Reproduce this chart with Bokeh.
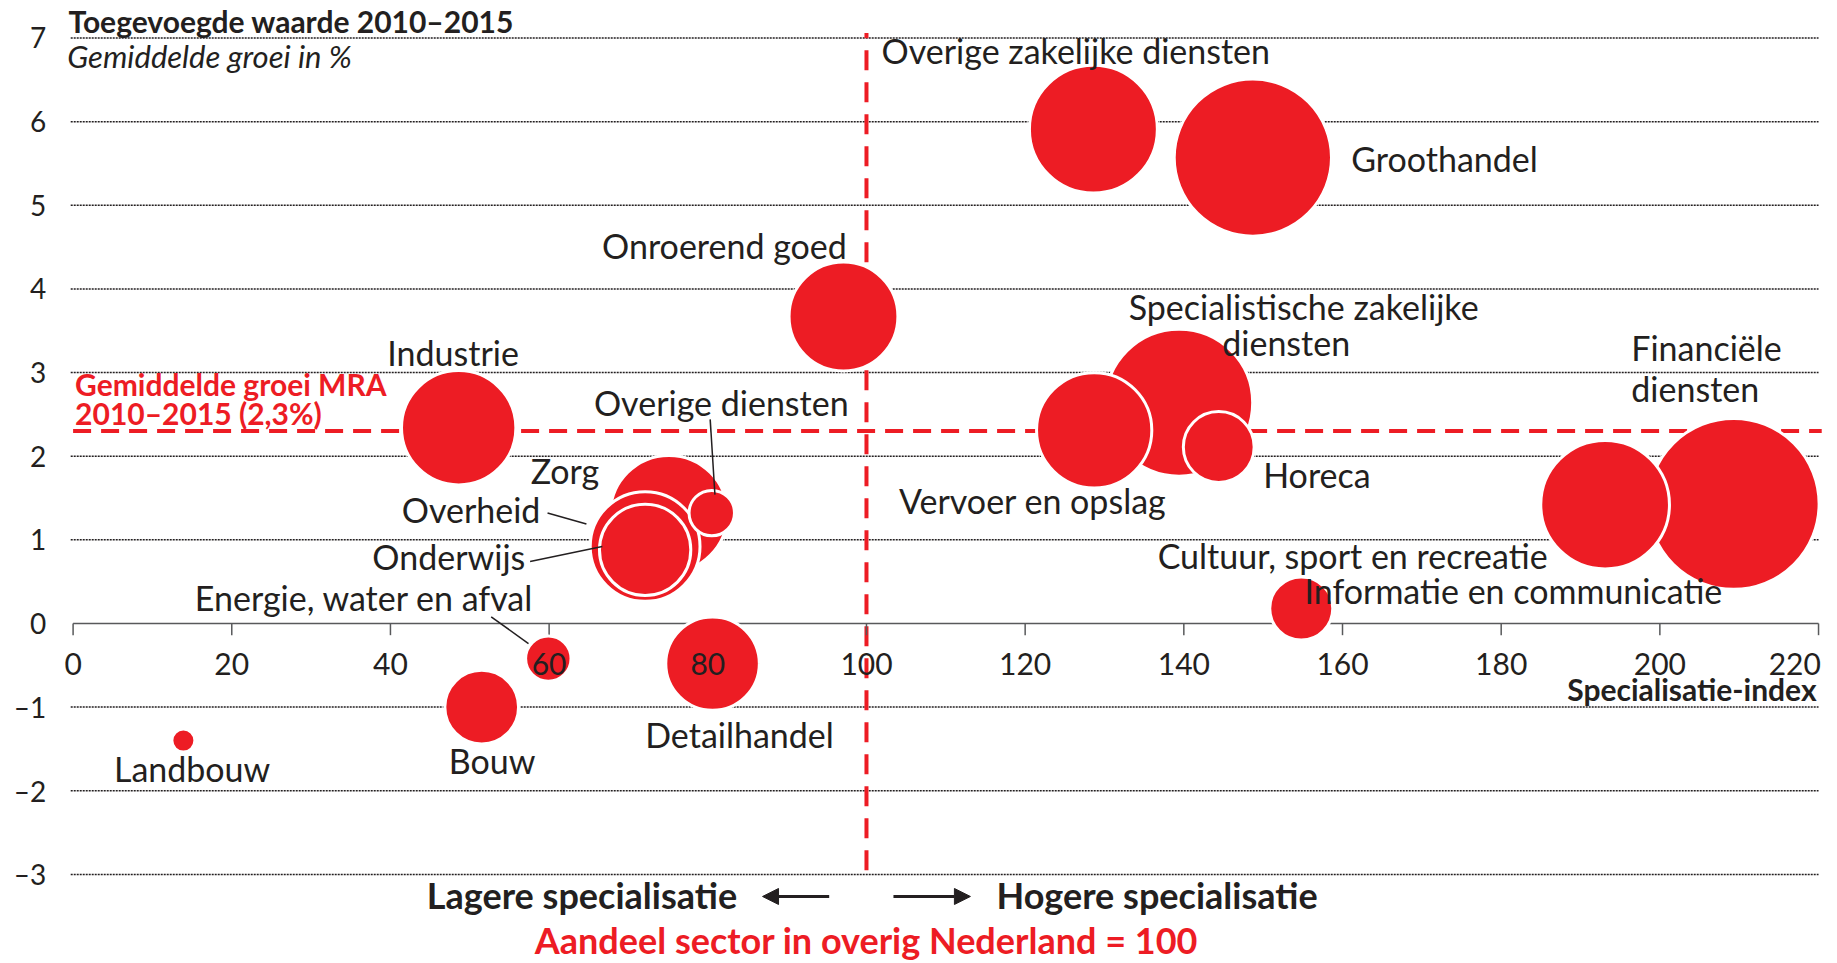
import math
from bokeh.plotting import figure
from bokeh.models import Range1d, Label, Arrow, NormalHead, ColumnDataSource
from bokeh.core.properties import value
from bokeh.embed import file_html
from bokeh.resources import INLINE

# ---------------- data ----------------
sectors = [
    "Financiële diensten", "Groothandel", "Specialistische zakelijke diensten",
    "Informatie en communicatie", "Overige zakelijke diensten", "Zorg",
    "Vervoer en opslag", "Industrie", "Overheid", "Onroerend goed",
    "Detailhandel", "Onderwijs", "Bouw", "Horeca",
    "Cultuur, sport en recreatie", "Overige diensten",
    "Energie, water en afval", "Landbouw",
]
spec_index = [209.3, 148.7, 139.4, 193.1, 128.6, 75.1, 128.7, 48.6, 72.1, 97.1,
              80.6, 72.1, 51.5, 144.4, 154.8, 80.5, 59.9, 13.9]
growth = [1.43, 5.57, 2.64, 1.42, 5.91, 1.31, 2.31, 2.34, 0.92, 3.67,
          -0.48, 0.88, -1.00, 2.11, 0.18, 1.32, -0.42, -1.40]
share = [14.1, 11.9, 10.4, 7.9, 7.8, 6.5, 6.3, 6.2, 5.7, 5.6,
         4.1, 3.9, 2.5, 2.3, 1.8, 0.9, 0.9, 0.2]

x_ticks = [0, 20, 40, 60, 80, 100, 120, 140, 160, 180, 200, 220]
y_ticks = [-3, -2, -1, 0, 1, 2, 3, 4, 5, 6, 7]
mra_avg = 2.3
reference_index = 100

# ---------------- style ----------------
RED = "#ED1C24"
INK = "#231F20"
AXIS = "#58595B"
FONT = "Lato"

p = figure(width=1837, height=963,
           x_range=Range1d(-9.15, 222.39), y_range=Range1d(-4.0653, 7.4483),
           output_backend="svg", toolbar_location=None,
           min_border_left=0, min_border_right=0,
           min_border_top=0, min_border_bottom=0,
           x_axis_location=None, y_axis_location=None)
p.outline_line_color = None
p.xgrid.visible = False
p.ygrid.visible = False

# horizontal dotted grid lines
grid_y = [t for t in y_ticks if t != 0]
p.segment(x0=[-0.3] * len(grid_y), y0=grid_y, x1=[x_ticks[-1]] * len(grid_y), y1=grid_y,
          line_color=INK, line_width=1.5, line_dash="2 1")

# y tick labels
p.text(x=[-3.4] * len(y_ticks), y=y_ticks,
       text=[("–" + str(-t)) if t < 0 else str(t) for t in y_ticks],
       text_align="right", text_baseline="middle",
       text_font=value(FONT), text_font_size="28px", text_color=INK)

# reference lines (behind bubbles)
p.segment(x0=[0], y0=[mra_avg], x1=[220.4], y1=[mra_avg],
          line_color=RED, line_width=4, line_dash="18 10")
p.segment(x0=[reference_index], y0=[-2.95], x1=[reference_index], y1=[7.06],
          line_color=RED, line_width=4, line_dash="20 12")

# x axis at y = 0
p.segment(x0=[x_ticks[0]], y0=[0], x1=[x_ticks[-1]], y1=[0], line_color=AXIS, line_width=1.5)
p.segment(x0=x_ticks, y0=[0] * len(x_ticks), x1=x_ticks, y1=[-0.14] * len(x_ticks),
          line_color=AXIS, line_width=1.5)

# bubbles
src = ColumnDataSource(dict(
    x=spec_index, y=growth, name=sectors,
    size=[2 * math.sqrt(s * 500) + 3 for s in share],
))
p.scatter("x", "y", size="size", source=src, fill_color=RED,
          line_color="white", line_width=3)

# x tick labels (above bubbles); the last one ends at its tick
TICK_Y = -0.486
p.text(x=x_ticks[:-1], y=[TICK_Y] * (len(x_ticks) - 1), text=[str(t) for t in x_ticks[:-1]],
       text_align="center", text_baseline="alphabetic",
       text_font=value(FONT), text_font_size="30px", text_color=INK)
p.text(x=[x_ticks[-1] + 0.3], y=[TICK_Y], text=[str(x_ticks[-1])],
       text_align="right", text_baseline="alphabetic",
       text_font=value(FONT), text_font_size="30px", text_color=INK)

# leader lines
p.segment(x0=[80.3, 59.8, 57.6, 52.7], y0=[2.44, 1.32, 0.74, 0.08],
          x1=[80.9, 64.7, 66.7, 57.4], y1=[1.54, 1.19, 0.92, -0.24],
          line_color=INK, line_width=1.5)

# bubble labels
LBL_DY = 0.035
labels_left = [
    ("Overige zakelijke diensten", 101.9, 6.82),
    ("Groothandel", 161.1, 5.52),
    ("Financiële", 196.4, 3.26),
    ("diensten", 196.4, 2.77),
    ("Vervoer en opslag", 104.1, 1.43),
    ("Horeca", 150.0, 1.75),
    ("Cultuur, sport en recreatie", 136.7, 0.78),
    ("Informatie en communicatie", 155.2, 0.36),
]
labels_center = [
    ("Onroerend goed", 82.1, 4.48),
    ("Specialistische zakelijke", 155.1, 3.75),
    ("diensten", 152.9, 3.33),
    ("Industrie", 47.9, 3.21),
    ("Overige diensten", 81.7, 2.61),
    ("Zorg", 62.0, 1.79),
    ("Energie, water en afval", 36.7, 0.27),
    ("Detailhandel", 84.0, -1.36),
    ("Bouw", 52.8, -1.67),
    ("Landbouw", 15.0, -1.77),
]
labels_right = [
    ("Overheid", 58.9, 1.33),
    ("Onderwijs", 57.0, 0.76),
]
for group, align in ((labels_left, "left"), (labels_center, "center"), (labels_right, "right")):
    p.text(x=[g[1] for g in group], y=[g[2] + LBL_DY for g in group], text=[g[0] for g in group],
           text_align=align, text_baseline="middle",
           text_font=value(FONT), text_font_size="34px", text_color=INK)

# annotations
def add_label(text, x, y, size, color=INK, style="normal", align="left"):
    p.add_layout(Label(x=x, y=y, text=text, text_font=FONT, text_font_size=size,
                       text_color=color, text_font_style=style, text_align=align,
                       text_baseline="alphabetic"))

add_label("Toegevoegde waarde 2010–2015", -0.58, 7.198, "30px", style="bold")
add_label("Gemiddelde groei in %", -0.74, 6.789, "31px", style="italic")
add_label("Gemiddelde groei MRA", 0.25, 2.864, "30px", color=RED, style="bold")
add_label("2010–2015 (2,3%)", 0.25, 2.518, "30px", color=RED, style="bold")
add_label("Specialisatie-index", 219.75, -0.785, "30px", style="bold", align="right")
add_label("Lagere specialisatie", 83.7, -3.252, "36px", style="bold", align="right")
add_label("Hogere specialisatie", 116.4, -3.252, "36px", style="bold")
add_label("Aandeel sector in overig Nederland = 100", reference_index, -3.78, "36px",
          color=RED, style="bold", align="center")

p.add_layout(Arrow(end=NormalHead(size=16, fill_color=INK, line_color=INK),
                   x_start=95.3, y_start=-3.264, x_end=86.9, y_end=-3.264,
                   line_color=INK, line_width=3))
p.add_layout(Arrow(end=NormalHead(size=16, fill_color=INK, line_color=INK),
                   x_start=103.4, y_start=-3.264, x_end=113.1, y_end=-3.264,
                   line_color=INK, line_width=3))

open("out.html", "w").write(file_html(p, INLINE))
